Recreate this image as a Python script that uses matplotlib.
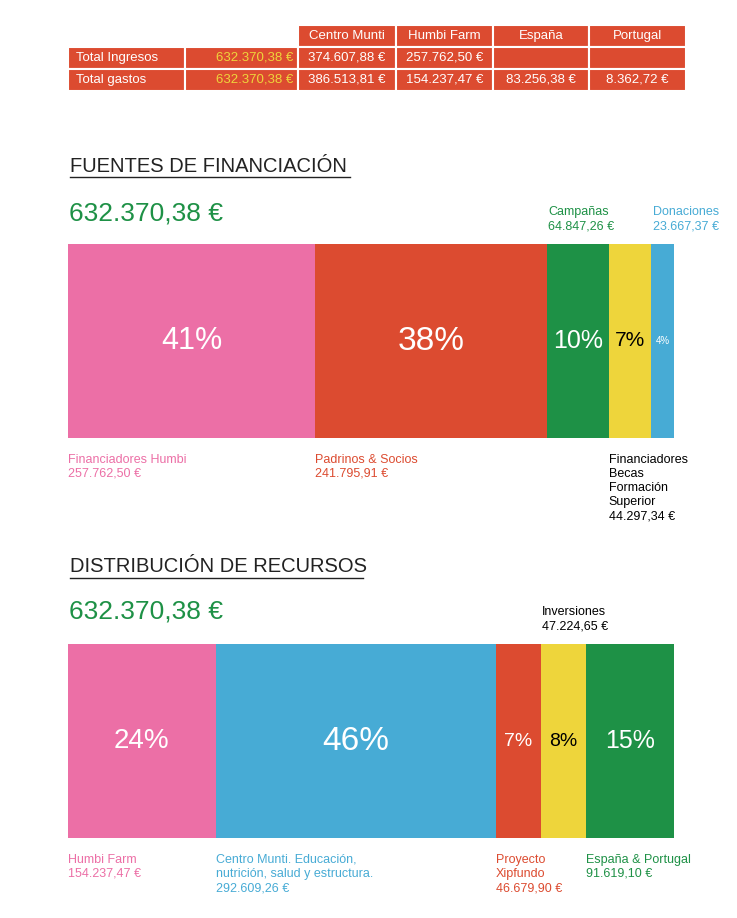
import matplotlib.pyplot as plt
import numpy as np

plt.rcParams['font.family'] = ['Liberation Sans', 'DejaVu Sans']

PINK = '#EC6FA6'
RED = '#DC4B30'
GREEN = '#1E9146'
YELLOW = '#EED53B'
BLUE = '#47ABD5'

# table
table_header = ['Centro Munti', 'Humbi Farm', 'España', 'Portugal']
table_rows = ['Total Ingresos', 'Total gastos']
table_total = ['632.370,38 €', '632.370,38 €']
table_values = [['374.607,88 €', '257.762,50 €', '', ''],
                ['386.513,81 €', '154.237,47 €', '83.256,38 €', '8.362,72 €']]

# fuentes de financiación
fin_labels = ['Financiadores Humbi', 'Padrinos & Socios', 'Campañas',
              'Financiadores\nBecas\nFormación\nSuperior', 'Donaciones']
fin_values = [257762.50, 241795.91, 64847.26, 44297.34, 23667.37]
fin_pct = ['41%', '38%', '10%', '7%', '4%']
fin_colors = [PINK, RED, GREEN, YELLOW, BLUE]

# distribución de recursos
dist_labels = ['Humbi Farm', 'Centro Munti. Educación,\nnutrición, salud y estructura.',
               'Proyecto\nXipfundo', 'Inversiones', 'España & Portugal']
dist_values = [154237.47, 292609.26, 46679.90, 47224.65, 91619.10]
dist_pct = ['24%', '46%', '7%', '8%', '15%']
dist_colors = [PINK, BLUE, RED, YELLOW, GREEN]


def eur(v):
    s = f'{v:,.2f}'
    return s.replace(',', 'X').replace('.', ',').replace('X', '.') + ' €'


fig = plt.figure(figsize=(7.37, 9.18), dpi=100)
bg = fig.add_axes([0, 0, 1, 1])
bg.set_xlim(0, 737)
bg.set_ylim(918, 0)
bg.axis('off')

# table cells
cols = [68, 185, 298, 396, 493, 589, 686]
rows_y = [25, 47, 69, 91]
for i in range(2, 6):
    bg.add_patch(plt.Rectangle((cols[i], rows_y[0]), cols[i + 1] - cols[i], rows_y[1] - rows_y[0],
                               facecolor=RED, edgecolor='white', lw=1.5))
    bg.text((cols[i] + cols[i + 1]) / 2, 36, table_header[i - 2], color='white',
            ha='center', va='center', fontsize=9.5)
for r in range(2):
    y0, y1 = rows_y[r + 1], rows_y[r + 2]
    ym = (y0 + y1) / 2
    for i in range(6):
        bg.add_patch(plt.Rectangle((cols[i], y0), cols[i + 1] - cols[i], y1 - y0,
                                   facecolor=RED, edgecolor='white', lw=1.5))
    bg.text(cols[0] + 8, ym, table_rows[r], color='white', va='center', fontsize=9.5)
    bg.text(cols[2] - 5, ym, table_total[r], color=YELLOW, va='center', ha='right', fontsize=9.5)
    for i, v in enumerate(table_values[r]):
        bg.text((cols[i + 2] + cols[i + 3]) / 2, ym, v, color='white',
                ha='center', va='center', fontsize=9.5)


def section(title, ty, total_y):
    bg.text(70, ty, title, fontsize=14.5, color='#222222', va='center')
    w = 280 if 'FUENTES' in title else 293
    bg.plot([70, 70 + w], [ty + 11, ty + 11], color='#222222', lw=1)
    bg.text(69, total_y, eur(sum(fin_values)), fontsize=19, color=GREEN, va='center')


section('FUENTES DE FINANCIACIÓN', 166, 214)
section('DISTRIBUCIÓN DE RECURSOS', 567, 612)


def stacked(rect, values, pct, colors, labels, above, pct_sizes):
    ax = fig.add_axes(rect)
    total = sum(values)
    lefts = np.concatenate([[0], np.cumsum(values)[:-1]])
    ax.barh(0, values, left=lefts, color=colors, height=1)
    ax.set_xlim(0, total)
    ax.set_ylim(-0.5, 0.5)
    ax.axis('off')
    for i, (l, v) in enumerate(zip(lefts, values)):
        tc = 'black' if colors[i] == YELLOW else 'white'
        ax.text(l + v / 2, 0, pct[i], color=tc, ha='center', va='center',
                fontsize=pct_sizes[i])
        lc = 'black' if colors[i] == YELLOW else colors[i]
        if colors[i] == YELLOW and i in above:
            lc = 'black'
        txt = labels[i] + '\n' + eur(v)
        if i in above:
            ax.text(l + total * 0.002, 0.56, txt, color=lc, ha='left', va='bottom',
                    fontsize=9, linespacing=1.25)
        else:
            ax.text(l, -0.58, txt, color=lc, ha='left', va='top',
                    fontsize=9, linespacing=1.25)
    return ax


fh, fw = 918, 737
stacked([68 / fw, 1 - 438 / fh, 606 / fw, 194 / fh], fin_values, fin_pct, fin_colors,
        fin_labels, above=[2, 4], pct_sizes=[22, 24, 18, 15, 7])
stacked([68 / fw, 1 - 838 / fh, 606 / fw, 194 / fh], dist_values, dist_pct, dist_colors,
        dist_labels, above=[3], pct_sizes=[20, 24, 14, 14, 18])

fig.savefig('out.png', dpi=100)
